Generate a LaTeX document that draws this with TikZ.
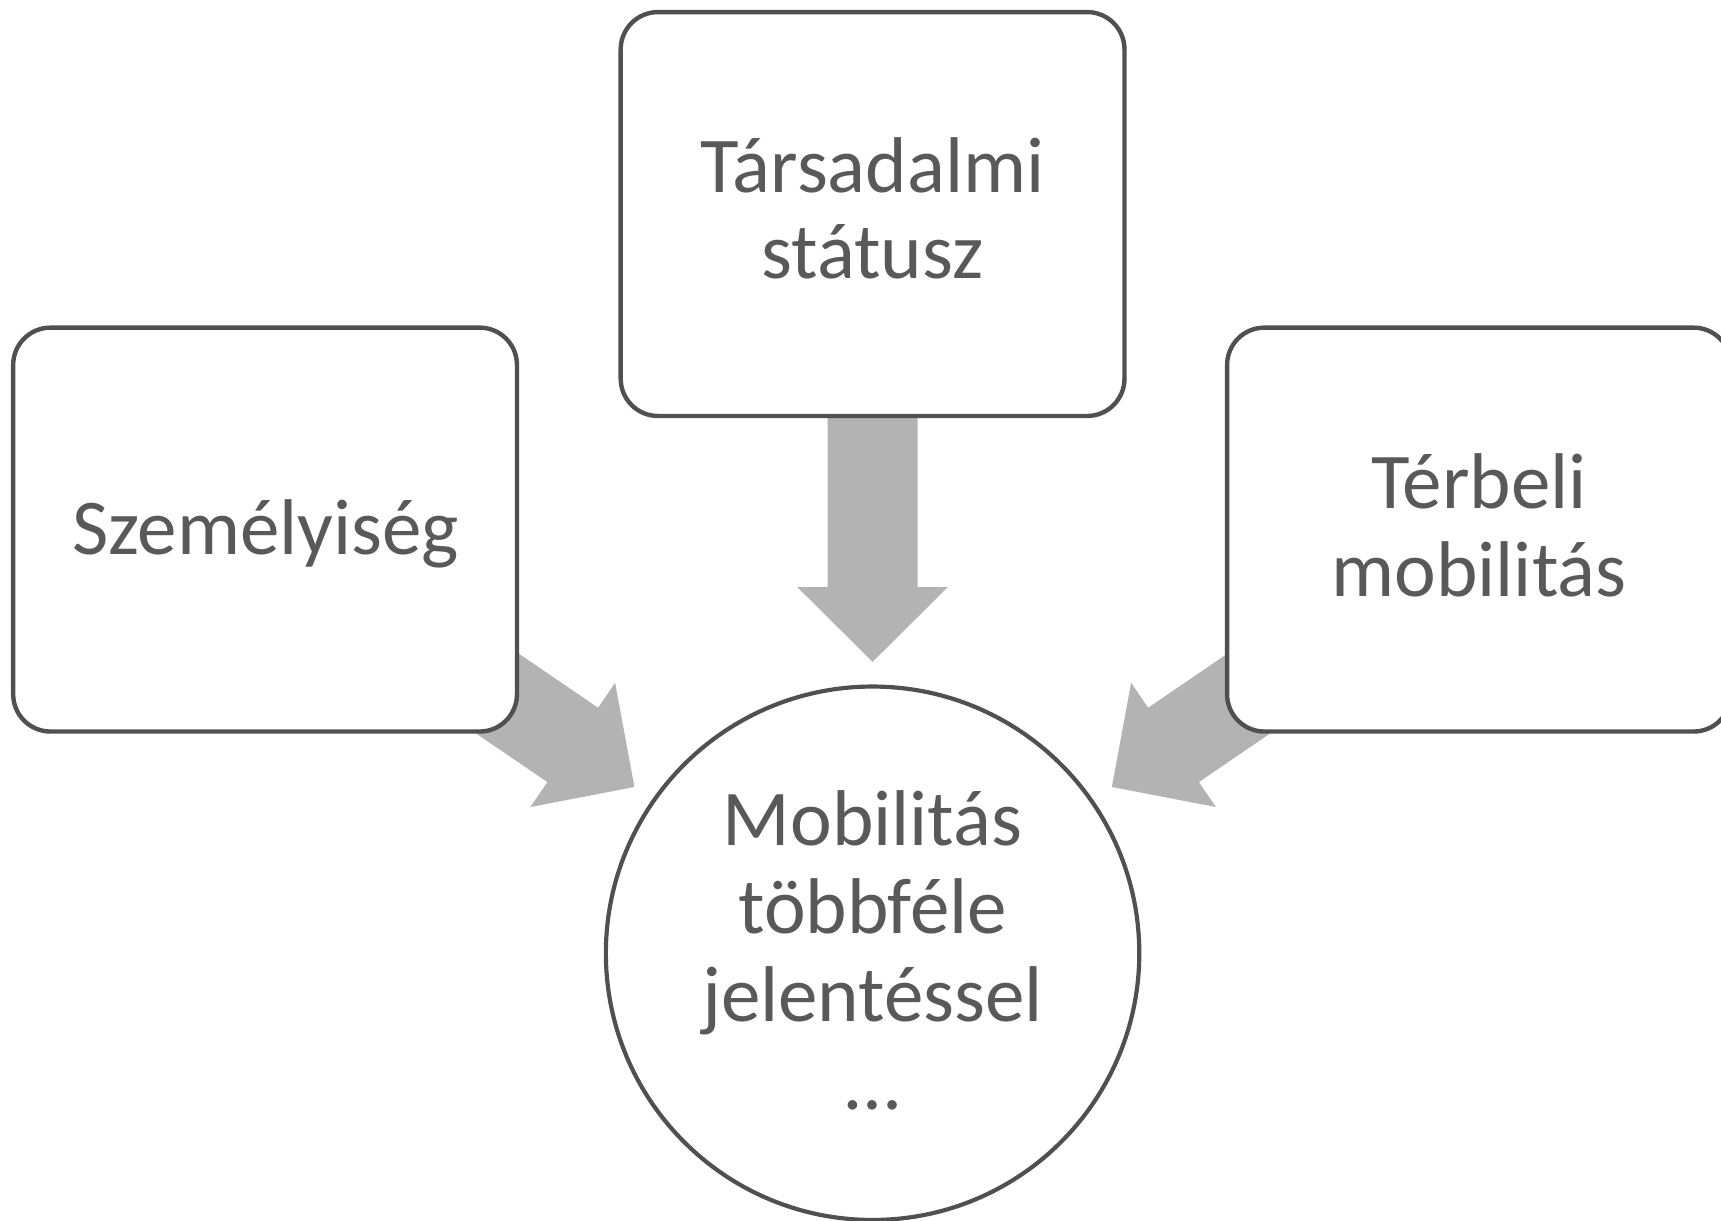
\documentclass[tikz,border=0pt]{standalone}
\usepackage{fontspec}
\setmainfont{Carlito}
\usetikzlibrary{backgrounds,calc}
\definecolor{edgec}{HTML}{505050}
\definecolor{txtc}{HTML}{595959}
\definecolor{arrowc}{HTML}{B3B3B3}
\tikzset{
  box/.style={draw=edgec, line width=4pt, fill=white, rounded corners=34pt,
    minimum width=459pt, minimum height=368pt, inner sep=0pt},
  hub/.style={draw=edgec, line width=3.8pt, fill=white, circle,
    minimum size=486pt, inner sep=0pt},
  lbl/.style={text=txtc, anchor=base, inner sep=0pt, outer sep=0pt},
  blockarrow/.style={fill=arrowc},
}
\newcommand{\mylines}[2]{\parbox[t]{440pt}{\centering\fontsize{72}{#1}\selectfont #2}}
\newcommand{\myarrow}[3]{%
  \fill[blockarrow, shift={(#1)}, rotate=#2]
    (0,0) -- (-68,68.5) -- (-68,41) -- (-#3,41) -- (-#3,-41) -- (-68,-41) -- (-68,-68.5) -- cycle;}
\begin{document}
\begin{tikzpicture}[x=1pt,y=-1pt]
\useasboundingbox (0,0) rectangle (1568,1112.3);
% shapes
\node[box] (szem) at (241.5,482.5) {};
\node[box] (tars) at (795,195) {};
\node[box] (ter) at (1347.5,482.5) {};
\node[hub] (mob) at (795,868.5) {};
% texts
\node[lbl] (szemT) at (242,505.6) {\mylines{80pt}{Személyiség}};
\node[lbl] (tarsT) at (795,175.2) {\mylines{78.4pt}{Társadalmi\\státusz}};
\node[lbl] (terT) at (1347.5,463.7) {\mylines{80pt}{Térbeli\\mobilitás}};
\node[lbl] (mobT) at (795,770.7) {\mylines{80pt}{Mobilitás\\többféle\\jelentéssel\\…}};
% block arrows behind the shapes
\begin{pgfonlayer}{background}
  \coordinate (tipT) at ($(mob.center)+(0,-265.5)$);
  \coordinate (tipL) at ($(mob.center)+(-217,-151.5)$);
  \coordinate (tipR) at ($(mob.center)+(218,-151.5)$);
  \myarrow{tipT}{-90}{330}
  \myarrow{tipL}{-34.3}{200}
  \myarrow{tipR}{-145.7}{200}
\end{pgfonlayer}
\end{tikzpicture}
\end{document}
